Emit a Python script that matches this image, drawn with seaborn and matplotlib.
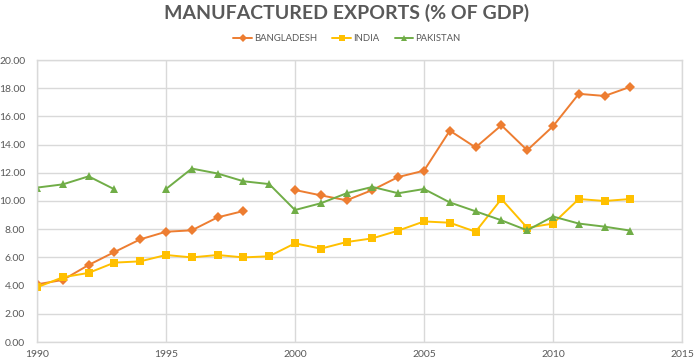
import numpy as np
import pandas as pd
import matplotlib
matplotlib.use("Agg")
import matplotlib.pyplot as plt
from matplotlib.lines import Line2D
import seaborn as sns

sns.set_theme(style="white")
plt.rcParams['font.family'] = ['Lato', 'DejaVu Sans']

### Data ###

years = list(range(1990, 2014))
bangladesh = [4.09, 4.40, 5.46, 6.38, 7.28, 7.82, 7.92, 8.84, 9.29, np.nan,
              10.78, 10.40, 10.05, 10.78, 11.70, 12.15, 14.99, 13.80, 15.37, 13.60,
              15.30, 17.60, 17.45, 18.10]
india = [3.88, 4.59, 4.90, 5.63, 5.72, 6.17, 6.00, 6.17, 6.00, 6.08,
         7.00, 6.62, 7.09, 7.35, 7.90, 8.55, 8.46, 7.82, 10.14, 8.10,
         8.40, 10.14, 10.00, 10.14]
pakistan = [10.95, 11.18, 11.75, 10.83, np.nan, 10.85, 12.30, 11.95, 11.40, 11.20,
            9.36, 9.84, 10.55, 11.00, 10.55, 10.85, 9.90, 9.27, 8.63, 7.92,
            8.90, 8.40, 8.18, 7.90]

series = {"BANGLADESH": bangladesh, "INDIA": india, "PAKISTAN": pakistan}
colors = {"BANGLADESH": "#ED7D31", "INDIA": "#FFC000", "PAKISTAN": "#70AD47"}
markers = {"BANGLADESH": "D", "INDIA": "s", "PAKISTAN": "^"}

### Long table, split into segments at gaps ###

rows = []
for name, vals in series.items():
    seg = 0
    for yr, v in zip(years, vals):
        if np.isnan(v):
            seg += 1
            continue
        rows.append({"Year": yr, "Value": v, "Country": name, "Seg": f"{name}-{seg}"})
df = pd.DataFrame(rows)

### Plot ###

fig = plt.figure(figsize=(6.94, 3.63), dpi=100)
ax = fig.add_axes([37 / 694, 21 / 363, 645 / 694, 282 / 363])

sns.lineplot(data=df, x="Year", y="Value", hue="Country", style="Country",
             units="Seg", estimator=None, palette=colors, markers=markers,
             dashes=False, linewidth=1.4, markersize=5.5, markeredgewidth=0,
             ax=ax, legend=False)

grid = "#D9D9D9"
ax.set_xlim(1990, 2015)
ax.set_ylim(0, 20)
ax.set_xticks(range(1990, 2016, 5))
ax.set_yticks(np.arange(0, 20.1, 2))
ax.set_yticklabels([f"{v:.2f}" for v in np.arange(0, 20.1, 2)])
ax.grid(True, color=grid, linewidth=1)
ax.set_axisbelow(True)
for s in ax.spines.values():
    s.set_color(grid)
    s.set_linewidth(1)
ax.tick_params(axis="both", length=0, labelsize=7.5, labelcolor="#595959")
ax.tick_params(axis="y", pad=8.5)
ax.tick_params(axis="x", pad=6)
ax.set_xlabel("")
ax.set_ylabel("")

# legend
handles = [Line2D([], [], color=colors[n], marker=markers[n], markersize=4,
                  markeredgewidth=0, linewidth=1.4) for n in series]
fig.legend(handles, list(series), loc="center", bbox_to_anchor=(0.5, 0.893),
           ncol=3, frameon=False, fontsize=6.8, labelcolor="#595959",
           handlelength=2.0, handletextpad=0.2, columnspacing=1.6)

fig.text(0.5, 0.963, "MANUFACTURED EXPORTS (% OF GDP)", ha="center", va="center",
         fontsize=14, fontweight="bold", color="#595959")

fig.savefig("out.png", dpi=100)
